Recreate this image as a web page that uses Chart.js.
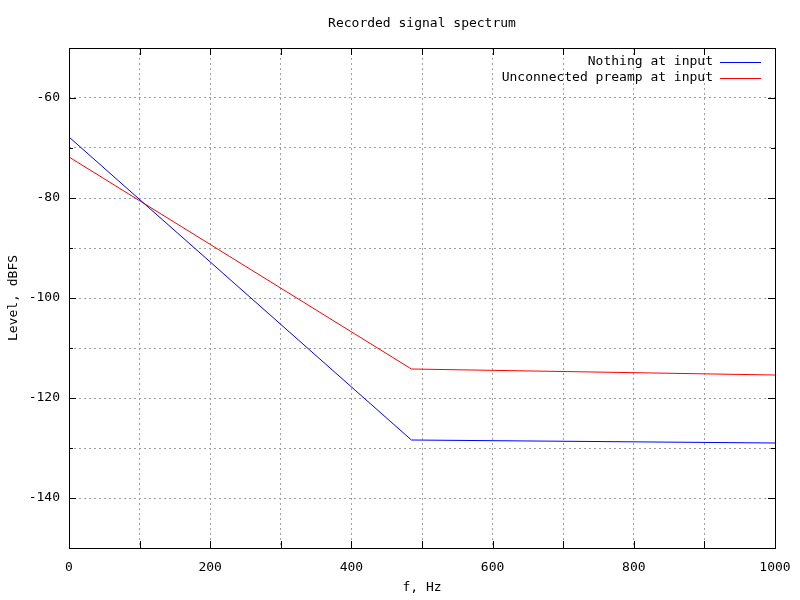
<!DOCTYPE html>
<html>
<head>
<meta charset="utf-8">
<script src="https://cdn.jsdelivr.net/npm/chart.js@4/dist/chart.umd.min.js"></script>
<style>
  html, body { margin: 0; padding: 0; background: #fff; }
  #wrap { width: 800px; height: 600px; }
</style>
</head>
<body>
<div id="wrap"><canvas id="grafico" width="800" height="600"></canvas></div>
<script>
// Dados
var frequencias = [0, 485, 1000];
var nadaNaEntrada = [-67.8, -128.4, -129.0];
var preampNaEntrada = [-71.8, -114.2, -115.4];
var rotulosX = [0, 200, 400, 600, 800, 1000];
var rotulosY = [-60, -80, -100, -120, -140];

var fonte = '13px "DejaVu Sans Mono", "Liberation Mono", monospace';

function pontos(valores) {
  return frequencias.map(function(f, i) { return { x: f, y: valores[i] }; });
}

// Desenha título, rótulos dos eixos, moldura, marcas e legenda (estilo gnuplot)
var estiloGnuplot = {
  id: 'estiloGnuplot',
  afterDatasetsDraw: function(chart) {
    var ctx = chart.ctx;
    var a = chart.chartArea;
    var sx = chart.scales.x, sy = chart.scales.y;
    ctx.save();
    ctx.strokeStyle = '#000';
    ctx.lineWidth = 1;
    ctx.setLineDash([]);
    ctx.beginPath();
    // marcas dos eixos, para dentro, nos quatro lados
    for (var f = 0; f <= 1000; f += 100) {
      var px = Math.round(sx.getPixelForValue(f)) + 0.5;
      ctx.moveTo(px, a.bottom); ctx.lineTo(px, a.bottom - 7);
      ctx.moveTo(px, a.top); ctx.lineTo(px, a.top + 7);
    }
    for (var v = -150; v <= -50; v += 10) {
      var py = Math.round(sy.getPixelForValue(v)) + 0.5;
      var len = rotulosY.indexOf(v) >= 0 ? 7 : 4;
      ctx.moveTo(a.left, py); ctx.lineTo(a.left + len, py);
      ctx.moveTo(a.right, py); ctx.lineTo(a.right - len, py);
    }
    ctx.stroke();
    ctx.strokeRect(Math.round(a.left) + 0.5, Math.round(a.top) + 0.5,
                   Math.round(a.right - a.left), Math.round(a.bottom - a.top));

    ctx.fillStyle = '#000';
    ctx.font = fonte;
    ctx.textAlign = 'center';
    ctx.textBaseline = 'middle';
    var cx = (a.left + a.right) / 2;
    ctx.fillText('Recorded signal spectrum', cx, 24);
    ctx.fillText('f, Hz', cx, 588);
    ctx.save();
    ctx.translate(14, (a.top + a.bottom) / 2);
    ctx.rotate(-Math.PI / 2);
    ctx.fillText('Level, dBFS', 0, 0);
    ctx.restore();

    // legenda
    ctx.textAlign = 'right';
    chart.data.datasets.forEach(function(ds, i) {
      var ly = 62 + i * 16;
      ctx.fillStyle = '#000';
      ctx.fillText(ds.label, 713, ly);
      ctx.strokeStyle = ds.borderColor;
      ctx.beginPath();
      ctx.moveTo(720, ly + 0.5); ctx.lineTo(761, ly + 0.5);
      ctx.stroke();
    });
    ctx.restore();
  }
};

var grafico = new Chart(document.getElementById('grafico').getContext('2d'), {
  type: 'line',
  data: {
    datasets: [{
      label: 'Nothing at input',
      data: pontos(nadaNaEntrada),
      borderColor: '#0000ff',
      borderWidth: 1,
      pointRadius: 0,
      tension: 0
    }, {
      label: 'Unconnected preamp at input',
      data: pontos(preampNaEntrada),
      borderColor: '#ff0000',
      borderWidth: 1,
      pointRadius: 0,
      tension: 0
    }]
  },
  options: {
    responsive: false,
    animation: false,
    devicePixelRatio: 1,
    layout: { padding: { left: 0, right: 25, top: 48, bottom: 0 } },
    plugins: {
      legend: { display: false },
      title: { display: false },
      tooltip: { enabled: false }
    },
    scales: {
      x: {
        type: 'linear',
        min: 0,
        max: 1000,
        afterFit: function(s) { s.height = 52; s.paddingLeft = 0; s.paddingRight = 0; },
        border: { display: false, dash: [2, 3] },
        grid: { color: '#a0a0a0', drawTicks: false },
        ticks: {
          stepSize: 100,
          padding: 12,
          color: '#000',
          font: { family: '"DejaVu Sans Mono", monospace', size: 13 },
          maxRotation: 0,
          autoSkip: false,
          callback: function(v) { return rotulosX.indexOf(v) >= 0 ? String(v) : ''; }
        }
      },
      y: {
        min: -150,
        max: -50,
        afterFit: function(s) { s.width = 69; s.paddingTop = 0; s.paddingBottom = 0; },
        border: { display: false, dash: [2, 3] },
        grid: { color: '#a0a0a0', drawTicks: false },
        ticks: {
          stepSize: 10,
          padding: 9,
          color: '#000',
          font: { family: '"DejaVu Sans Mono", monospace', size: 13 },
          autoSkip: false,
          callback: function(v) { return rotulosY.indexOf(v) >= 0 ? String(v) : ''; }
        }
      }
    }
  },
  plugins: [estiloGnuplot]
});
</script>
</body>
</html>
